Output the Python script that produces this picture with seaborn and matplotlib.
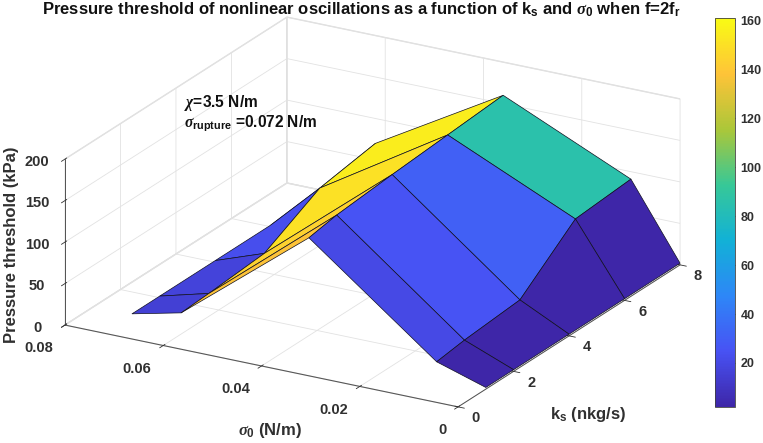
import matplotlib
matplotlib.use("Agg")
import matplotlib.pyplot as plt
import matplotlib.cm as cm
from matplotlib.colors import Normalize
import numpy as np
import seaborn as sns

# surface grid
sigma0 = [0, 0.01, 0.036, 0.062, 0.072]
ks = [1, 2, 4, 6, 8]

# pressure threshold (kPa), one list per ks value, along sigma0
p_k1 = [2, 20.6, 138, 15.5, 2]
p_k2 = [2, 25.3, 144, 17.5, 2]
p_k4 = [2, 31, 150, 23, 2]
p_k6 = [2, 85.8, 155, 59, 2]
p_k8 = [2, 91, 160, 70, 2]

sigma_ticks = [0, 0.02, 0.04, 0.06, 0.08]
sigma_ticklabels = ["0", "0.02", "0.04", "0.06", "0.08"]
ks_ticks = [0, 2, 4, 6, 8]
pressure_ticks = [0, 50, 100, 150, 200]
cbar_ticks = [20, 40, 60, 80, 100, 120, 140, 160]

# MATLAB parula
parula_stops = [(0.2422, 0.1504, 0.6603), (0.2810, 0.3228, 0.9579),
                (0.1786, 0.5289, 0.9682), (0.0689, 0.6948, 0.8394),
                (0.2161, 0.7843, 0.5923), (0.6720, 0.7793, 0.2227),
                (0.9970, 0.7659, 0.2199), (0.9769, 0.9839, 0.0805)]

sns.set_theme(style="white", rc={"grid.color": "#e2e2e2", "grid.linewidth": 0.6,
                                 "xtick.major.width": 0.6, "ytick.major.width": 0.6,
                                 "axes.edgecolor": "#404040"})
plt.rcParams["font.family"] = ["Liberation Sans", "DejaVu Sans"]
plt.rcParams["font.weight"] = "bold"
plt.rcParams["mathtext.fontset"] = "custom"
plt.rcParams["mathtext.rm"] = "Liberation Sans:bold"
plt.rcParams["mathtext.bf"] = "Liberation Sans:bold"
plt.rcParams["mathtext.it"] = "Liberation Serif:italic"

parula = sns.blend_palette(parula_stops, n_colors=256, as_cmap=True)
norm = Normalize(vmin=2, vmax=161)

W, H = 763, 443
fig = plt.figure(figsize=(W / 100, H / 100), dpi=100)
ax = fig.add_axes([-19.3 / W, -160.8 / H, W / W, W / H], projection="3d", proj_type="ortho")
ax.patch.set_alpha(0)

Z = np.array([p_k1, p_k2, p_k4, p_k6, p_k8], dtype=float)
X, Y = np.meshgrid(sigma0, ks)

# flat shading, each face takes the colour of its first corner like MATLAB
ax.plot_surface(X, Y, Z, rstride=1, cstride=1, facecolors=parula(norm(Z)),
                edgecolor="#101020", linewidth=0.5, shade=False, antialiased=True)

ax.set_xlim(0.08, 0)
ax.set_ylim(0, 8)
ax.set_zlim(0, 200)
ax.view_init(elev=21.4, azim=-60.3)
ax.set_box_aspect((1.097, 1.086, 0.432), zoom=0.8414)

ax.set_xticks(sigma_ticks)
ax.set_xticklabels(sigma_ticklabels)
ax.set_yticks(ks_ticks)
ax.set_zticks(pressure_ticks)
ax.tick_params(labelsize=10.5, colors="#303030")
ax.tick_params(axis="x", pad=7)
ax.tick_params(axis="y", pad=5)
ax.tick_params(axis="z", pad=5)
for lab in ax.get_xticklabels():
    lab.set_horizontalalignment("right")
for lab in ax.get_yticklabels() + ax.get_zticklabels():
    lab.set_verticalalignment("center")
ax.zaxis.set_ticks_position("lower")

for axis in (ax.xaxis, ax.yaxis, ax.zaxis):
    axis.set_pane_color((1, 1, 1, 1))
    axis.pane.set_edgecolor("#dedede")
    axis.line.set_color("#505050")
    axis.line.set_linewidth(0.7)

fig.text(361 / W, 1 - 10 / H,
         r"Pressure threshold of nonlinear oscillations as a function of k$_\mathbf{s}$ and $\sigma_\mathbf{0}$ when f=2f$_\mathbf{r}$",
         ha="center", va="center", fontsize=12, color="#111111")
fig.text(184 / W, 1 - 103 / H, r"$\chi$=3.5 N/m", ha="left", va="center", fontsize=11.2, color="#111111")
fig.text(184 / W, 1 - 124 / H, r"$\sigma_\mathbf{rupture}$ =0.072 N/m", ha="left", va="center", fontsize=11.2, color="#111111")
fig.text(270 / W, 1 - 430 / H, r"$\sigma_\mathbf{0}$ (N/m)", ha="center", va="center", fontsize=12, color="#303030")
fig.text(588 / W, 1 - 414 / H, r"k$_\mathbf{s}$ (nkg/s)", ha="center", va="center", fontsize=12, color="#303030")
fig.text(12 / W, 1 - 245 / H, "Pressure threshold (kPa)", ha="center", va="center", rotation=90, fontsize=12, color="#303030")

cax = fig.add_axes([715 / W, 1 - 407 / H, 20 / W, 389 / H])
cbar = fig.colorbar(cm.ScalarMappable(norm=norm, cmap=parula), cax=cax, ticks=cbar_ticks)
cbar.ax.tick_params(labelsize=9, direction="in", length=3, width=0.6, colors="#303030", pad=4)
cbar.outline.set_edgecolor("#404040")
cbar.outline.set_linewidth(0.6)

fig.savefig("out.png", dpi=100)
